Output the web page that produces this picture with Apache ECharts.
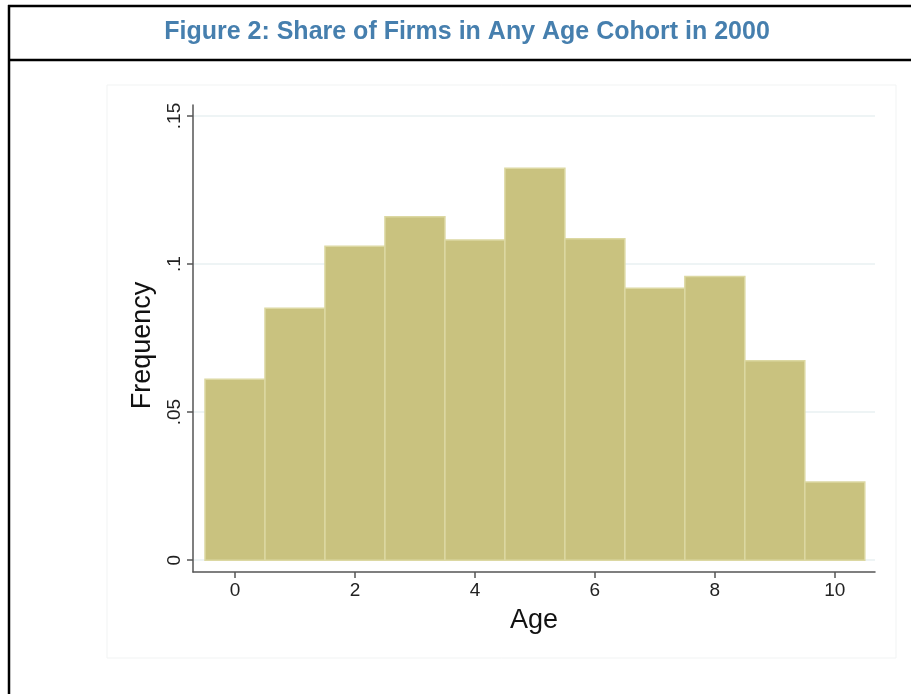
<!DOCTYPE html>
<html>
<head>
<meta charset="utf-8">
<script src="https://cdn.jsdelivr.net/npm/echarts@6/dist/echarts.min.js"></script>
<style>
html,body{margin:0;padding:0;background:#fff;}
#chart{width:911px;height:694px;}
</style>
</head>
<body>
<div id="chart"></div>
<script>
var titleText = 'Figure 2: Share of Firms in Any Age Cohort in 2000';
var ages = [0, 1, 2, 3, 4, 5, 6, 7, 8, 9, 10];
var frequency = [0.0611, 0.0851, 0.1060, 0.1160, 0.1081, 0.1323, 0.1085, 0.0918, 0.0958, 0.0673, 0.0264];
var xTicks = [0, 2, 4, 6, 8, 10];
var yTicks = [0, 0.05, 0.1, 0.15];
var yTickLabels = ['0', '.05', '.1', '.15'];
var xName = 'Age';
var yName = 'Frequency';

var chart = echarts.init(document.getElementById('chart'), null, {renderer: 'canvas'});
var font = 'Arial, "Liberation Sans", sans-serif';

var data = ages.map(function (a, i) { return [a, frequency[i]]; });

var option = {
  animation: false,
  backgroundColor: '#fff',
  title: {
    text: titleText,
    left: 462, top: 15, textAlign: 'center',
    textStyle: {color: '#467fae', fontSize: 25, fontWeight: 'bold', fontFamily: font}
  },
  graphic: [
    {type: 'rect', silent: true, z: -10, shape: {x: 107, y: 85, width: 789, height: 573},
     style: {fill: 'none', stroke: '#f1f3f3', lineWidth: 1}},
    {type: 'line', silent: true, shape: {x1: 8, y1: 6, x2: 911, y2: 6}, style: {stroke: '#000', lineWidth: 2.5}},
    {type: 'line', silent: true, shape: {x1: 8, y1: 60, x2: 911, y2: 60}, style: {stroke: '#000', lineWidth: 2.5}},
    {type: 'line', silent: true, shape: {x1: 9, y1: 5, x2: 9, y2: 694}, style: {stroke: '#000', lineWidth: 2.5}}
  ],
  grid: {left: 193, right: 36, top: 105, bottom: 122, containLabel: false},
  xAxis: {
    type: 'value', min: -0.7, max: 10.67,
    name: xName, nameLocation: 'middle', nameGap: 35,
    nameTextStyle: {fontSize: 27, color: '#111', fontFamily: font},
    axisLine: {show: true, onZero: false, lineStyle: {color: '#555', width: 1.5}},
    axisTick: {show: true, customValues: xTicks, length: 6, lineStyle: {color: '#555', width: 1.5}},
    axisLabel: {customValues: xTicks, fontSize: 19, color: '#222', margin: 9, fontFamily: font},
    splitLine: {show: false}
  },
  yAxis: {
    type: 'value', min: -0.004, max: 0.1537,
    name: yName, nameLocation: 'middle', nameGap: 37, nameRotate: 90,
    nameTextStyle: {fontSize: 27, color: '#111', fontFamily: font, padding: [0, 14, 0, 0]},
    axisLine: {show: true, onZero: false, lineStyle: {color: '#555', width: 1.5}},
    axisTick: {show: true, customValues: yTicks, length: 6, lineStyle: {color: '#555', width: 1.5}},
    axisLabel: {customValues: yTicks, rotate: 90, fontSize: 19, color: '#222', margin: 9, fontFamily: font,
      formatter: function (v) {
        for (var i = 0; i < yTicks.length; i++) { if (Math.abs(v - yTicks[i]) < 1e-9) return yTickLabels[i]; }
        return '';
      }},
    splitLine: {show: false}
  },
  series: [{
    type: 'custom',
    data: data,
    encode: {x: 0, y: 1},
    renderItem: function (params, api) {
      var x = api.value(0), y = api.value(1);
      var p0 = api.coord([x - 0.5, y]);
      var p1 = api.coord([x + 0.5, 0]);
      return {
        type: 'rect',
        shape: {x: p0[0], y: p0[1], width: p1[0] - p0[0], height: p1[1] - p0[1]},
        style: {fill: '#c9c27f', stroke: '#dcd8a2', lineWidth: 1.5}
      };
    },
    markLine: {
      silent: true, symbol: 'none', z: -1,
      label: {show: false},
      lineStyle: {color: '#e9f0f2', width: 1.5, type: 'solid'},
      data: yTicks.map(function (v) { return {yAxis: v}; })
    },
    z: 2
  }]
};
chart.setOption(option);
</script>
</body>
</html>
